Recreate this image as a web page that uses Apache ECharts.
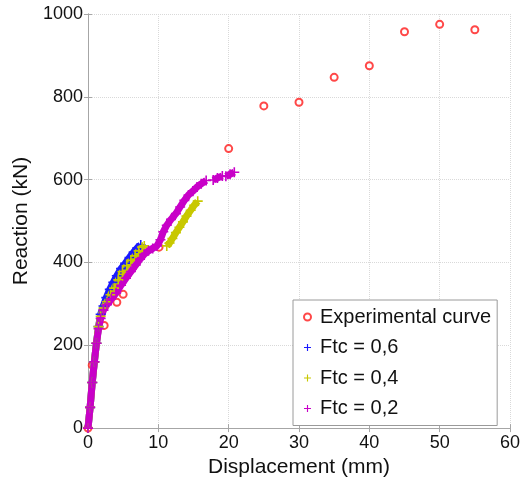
<!DOCTYPE html>
<html>
<head>
<meta charset="utf-8">
<script src="https://cdn.jsdelivr.net/npm/echarts@6/dist/echarts.min.js"></script>
<style>
html,body{margin:0;padding:0;background:#fff;}
#chart{width:532px;height:483px;}
</style>
</head>
<body>
<div id="chart"></div>
<script>
// ---- data ----
var xTicks = [0, 10, 20, 30, 40, 50, 60];
var yTicks = [0, 200, 400, 600, 800, 1000];

var experimental = [[0,0],[0.6,152],[2.3,248],[2.3,294],[4.1,304],[5.0,323],[10.1,437],
  [20,675],[25,778],[30,787],[35,847],[40,875],[45,957],[50,975],[55,962]];

var ftc06 = [[0,0],[0.3,50],[0.6,110],[0.9,160],[1.2,205],[1.5,245],[1.8,275],[2.2,295],
  [2.6,315],[3.1,335],[3.6,352],[4.1,368],[4.7,385],[5.3,398],[5.9,412],[6.5,425],[7.0,435],[7.5,442]];

var ftc04Seg1 = [[0,0],[0.3,50],[0.6,110],[0.9,160],[1.2,205],[1.5,245],[1.8,270],[2.2,290],
  [2.7,305],[3.2,322],[3.7,338],[4.3,358],[4.9,378],[5.5,392],[6.1,405],[6.7,416],[7.2,428],[7.7,437],[8.0,440]];
var ftc04Seg2 = [[11.2,440],[11.6,447],[12.0,458],[12.5,472],[13.0,485],[13.5,498],[14.0,512],
  [14.6,526],[15.1,538],[15.6,548]];

var ftc02Seg1 = [[0,0],[0.3,50],[0.6,110],[0.9,160],[1.2,205],[1.5,240],[1.8,265],[2.2,285],
  [2.7,298],[3.3,312],[4.0,326],[4.7,345],[5.4,362],[6.1,378],[6.8,394],[7.4,408],[8.0,420],
  [8.6,428],[9.2,434],[9.8,440],[10.3,455],[10.7,474],[11.2,490],[11.8,504],[12.5,518],
  [13.1,534],[13.7,550],[14.3,563],[14.9,572],[15.5,582],[16.1,590],[16.8,598]];
var ftc02Seg2 = [[17.8,599],[18.4,604],[19.1,609]];
var ftc02Seg3 = [[19.6,608],[20.2,613],[20.8,618]];

var names = ['Experimental curve', 'Ftc = 0,6', 'Ftc = 0,4', 'Ftc = 0,2'];
var colors = ['#ff1a1a', '#1a1aff', '#c8c800', '#c800c8'];

// ---- chart ----
var plus = 'path://M4.2,0H5.8V4.2H10V5.8H5.8V10H4.2V5.8H0V4.2H4.2Z';
var font = 'Liberation Sans, Arial, Helvetica, sans-serif';
var axisGray = '#a6a6a6';

function simSeries(name, color, data) {
  return {
    name: name, type: 'line', data: data,
    symbol: plus, symbolSize: 10, showSymbol: true,
    lineStyle: { color: color, width: 7 },
    itemStyle: { color: color },
    z: 3
  };
}

var chart = echarts.init(document.getElementById('chart'), null, { renderer: 'canvas' });
chart.setOption({
  animation: false,
  backgroundColor: '#fff',
  grid: { left: 88, right: 22, top: 14, bottom: 49, containLabel: false },
  xAxis: [{
    type: 'value', min: xTicks[0], max: xTicks[xTicks.length - 1], interval: 10,
    position: 'bottom',
    name: 'Displacement (mm)', nameLocation: 'middle', nameGap: 23,
    nameTextStyle: { fontSize: 21, color: '#111', fontFamily: font },
    axisLine: { show: true, lineStyle: { color: axisGray, width: 1 } },
    axisTick: { show: true, inside: true, length: 4, lineStyle: { color: axisGray } },
    axisLabel: { fontSize: 18, color: '#111', fontFamily: font, margin: 6,
      formatter: function (v) { return String(v); } },
    splitLine: { show: true, lineStyle: { color: '#d9d9d9', type: 'dotted', width: 1 } }
  }, {
    type: 'value', min: xTicks[0], max: xTicks[xTicks.length - 1], interval: 10,
    position: 'top',
    axisLine: { show: true, lineStyle: { color: axisGray, width: 1 } },
    axisTick: { show: true, inside: true, length: 4, lineStyle: { color: axisGray } },
    axisLabel: { show: false }, splitLine: { show: false }
  }],
  yAxis: [{
    type: 'value', min: yTicks[0], max: yTicks[yTicks.length - 1], interval: 200,
    position: 'left',
    name: 'Reaction (kN)', nameLocation: 'middle', nameGap: 50,
    nameTextStyle: { fontSize: 21, color: '#111', fontFamily: font },
    axisLine: { show: true, lineStyle: { color: axisGray, width: 1 } },
    axisTick: { show: true, inside: true, length: 4, lineStyle: { color: axisGray } },
    axisLabel: { fontSize: 18, color: '#111', fontFamily: font, margin: 5,
      formatter: function (v) { return String(v); } },
    splitLine: { show: true, lineStyle: { color: '#d9d9d9', type: 'dotted', width: 1 } }
  }, {
    type: 'value', min: yTicks[0], max: yTicks[yTicks.length - 1], interval: 200,
    position: 'right',
    axisLine: { show: true, lineStyle: { color: axisGray, width: 1 } },
    axisTick: { show: true, inside: true, length: 4, lineStyle: { color: axisGray } },
    axisLabel: { show: false }, splitLine: { show: false }
  }],
  legend: {
    orient: 'vertical', left: 293, top: 300,
    padding: [7, 6, 7, 10],
    backgroundColor: '#fff', borderColor: '#9a9a9a', borderWidth: 1,
    itemWidth: 7, itemHeight: 7, itemGap: 10.5,
    textStyle: { fontSize: 20, lineHeight: 20, color: '#111', fontFamily: font, padding: [0, 0, 0, 4] },
    data: [
      { name: names[0], icon: 'emptyCircle', itemStyle: { color: colors[0], borderColor: colors[0], borderWidth: 1.5 } },
      { name: names[1], icon: plus },
      { name: names[2], icon: plus },
      { name: names[3], icon: plus }
    ]
  },
  series: [
    {
      name: names[0], type: 'scatter', data: experimental,
      symbol: 'emptyCircle', symbolSize: 7,
      itemStyle: { color: colors[0], borderColor: colors[0], borderWidth: 1.5 },
      z: 2
    },
    simSeries(names[1], colors[1], ftc06),
    simSeries(names[2], colors[2], ftc04Seg1),
    simSeries(names[2], colors[2], ftc04Seg2),
    simSeries(names[3], colors[3], ftc02Seg1),
    simSeries(names[3], colors[3], ftc02Seg2),
    simSeries(names[3], colors[3], ftc02Seg3)
  ]
});
</script>
</body>
</html>
